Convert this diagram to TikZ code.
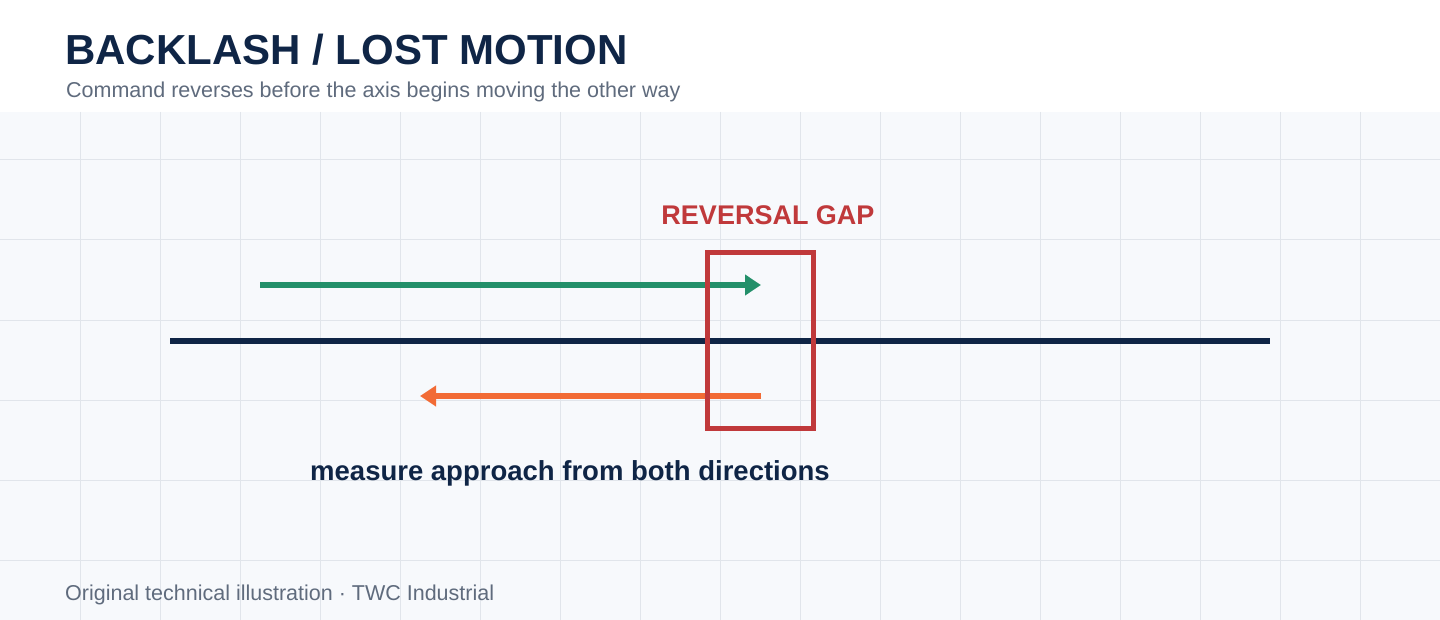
\documentclass[tikz,border=0pt]{standalone}
\usepackage{fontspec}
\setmainfont{Liberation Sans}
\usetikzlibrary{arrows.meta}
\definecolor{navy}{HTML}{0F2546}
\definecolor{gapred}{HTML}{C0393B}
\definecolor{fwdgreen}{HTML}{23906A}
\definecolor{revorange}{HTML}{F26B35}
\definecolor{subgray}{HTML}{5F6B7D}
\definecolor{gridline}{HTML}{E1E5EB}
\definecolor{panelbg}{HTML}{F7F9FC}
\tikzset{
  titletext/.style={anchor=base west, inner sep=0pt, text=navy, font=\fontsize{42}{48}\selectfont\bfseries},
  subtext/.style={anchor=base west, inner sep=0pt, text=subgray, font=\fontsize{21.5}{25}\selectfont},
  gaplabel/.style={anchor=base, inner sep=0pt, text=gapred, font=\fontsize{27}{31}\selectfont\bfseries},
  notelabel/.style={anchor=base, inner sep=0pt, text=navy, font=\fontsize{27.5}{32}\selectfont\bfseries},
  axisline/.style={draw=navy, line width=6pt},
  motionarrow/.style={line width=6pt, -{Triangle[length=16pt,width=20pt]}},
  gapbox/.style={draw=gapred, line width=5pt},
}
\begin{document}
\begin{tikzpicture}[x=1pt,y=-1pt]
\useasboundingbox (0,0) rectangle (1440,620);
\fill[white] (0,0) rectangle (1440,112);
\fill[panelbg] (0,112) rectangle (1440,620);
\foreach \gx in {80,160,...,1360} \draw[gridline, line width=1pt] (\gx,112) -- (\gx,620);
\foreach \gy in {160,240,...,560} \draw[gridline, line width=1pt] (0,\gy) -- (1440,\gy);

\node[titletext] (title) at (65,65) {BACKLASH / LOST MOTION};
\node[subtext] (subtitle) at (66,98) {Command reverses before the axis begins moving the other way};

\coordinate (axisL) at (170,341);
\coordinate (axisR) at (1270,341);
\draw[axisline] (axisL) -- (axisR);

\coordinate (fwdS) at (260,285);
\coordinate (fwdE) at (761,285);
\draw[motionarrow, draw=fwdgreen, fill=fwdgreen] (fwdS) -- (fwdE);

\coordinate (revS) at (761,396);
\coordinate (revE) at (420,396);
\draw[motionarrow, draw=revorange, fill=revorange] (revS) -- (revE);

\node[gapbox, minimum width=105.5pt, minimum height=175.5pt, inner sep=0pt] (gap) at (760.25,340.25) {};
\node[gaplabel] (gaplbl) at (768,225) {REVERSAL GAP};
\node[notelabel] (note) at (570,480) {measure approach from both directions};
\node[subtext] (footer) at (65,600) {Original technical illustration · TWC Industrial};
\end{tikzpicture}
\end{document}
